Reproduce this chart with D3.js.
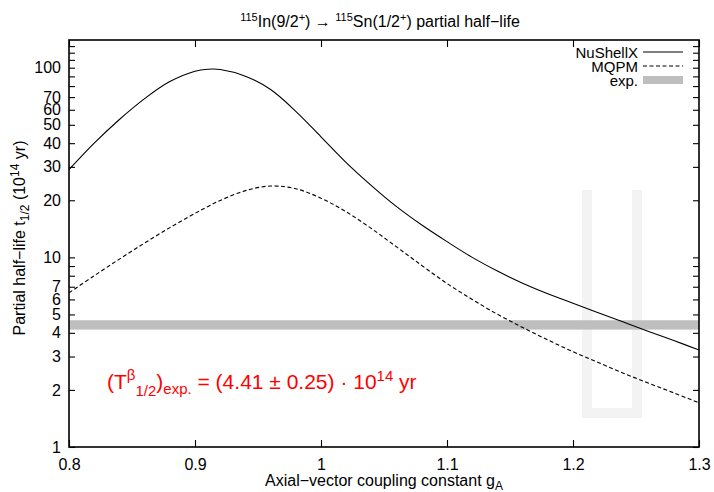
<!DOCTYPE html>
<html>
<head>
<script type="text/javascript" src="https://d3js.org/d3.v7.min.js"></script>
<style>
  body { margin: 0; background: white; }
  text { font-family: "Liberation Sans", Arial, Helvetica, sans-serif; }
</style>
</head>
<body>
<script>

var width = 714,
    height = 492;

// coupling constant g_A
var gA = [0.80, 0.82, 0.84, 0.86, 0.88, 0.90, 0.91, 0.92, 0.94, 0.96, 0.98,
          1.00, 1.02, 1.04, 1.06, 1.08, 1.10, 1.12, 1.14, 1.16, 1.18,
          1.20, 1.22, 1.24, 1.26, 1.28, 1.30];

// partial half-life, units of 10^14 yr
var nushellx = [29.0, 40.0, 53.3, 68.7, 84.5, 95.9, 98.2, 97.9, 90.2, 76.7, 58.9,
                43.2, 31.6, 23.9, 18.5, 14.8, 12.1, 10.0, 8.47, 7.31, 6.43,
                5.73, 5.11, 4.56, 4.07, 3.64, 3.25];

var mqpm = [6.50, 8.00, 9.79, 11.9, 14.35, 17.06, 18.5, 19.95, 22.49, 23.77, 23.01,
            20.51, 17.38, 14.19, 11.35, 9.06, 7.28, 6.00, 5.01, 4.27, 3.67,
            3.18, 2.79, 2.45, 2.17, 1.93, 1.71];

var expValue = 4.41,
    expError = 0.25;

var xTicks = [0.8, 0.9, 1, 1.1, 1.2, 1.3];
var yTicks = [1, 2, 3, 4, 5, 6, 7, 8, 9, 10, 20, 30, 40, 50, 60, 70, 80, 90, 100, 110, 120, 130];
var yLabels = [1, 2, 3, 4, 5, 6, 7, 10, 20, 30, 40, 50, 60, 70, 100];

var x = d3.scaleLinear().domain([0.8, 1.3]).range([69, 699]);
var y = d3.scaleLog().domain([1, 140]).range([447, 40]);

var svg = d3.select("body")
            .append("svg")
            .attr("width", width)
            .attr("height", height)
            .style("background", "white");

// faint watermark in the background of the original
svg.append("path")
   .attr("d", "M587,190 L587,413 L637,413 L637,190")
   .style("fill", "none")
   .style("stroke", "#f3f3f3")
   .style("stroke-width", 10);

// exp. band
svg.append("rect")
   .attr("x", x(0.8))
   .attr("width", x(1.3) - x(0.8))
   .attr("y", y(expValue + expError))
   .attr("height", y(expValue - expError) - y(expValue + expError))
   .style("fill", "#bebebe");

var line = d3.line()
             .x(function (d) { return x(d[0]); })
             .y(function (d) { return y(d[1]); })
             .curve(d3.curveCatmullRom.alpha(0.5));

svg.append("path")
   .datum(gA.map(function (g, i) { return [g, nushellx[i]]; }))
   .attr("d", line)
   .style("fill", "none")
   .style("stroke", "black")
   .style("stroke-width", 1.1);

svg.append("path")
   .datum(gA.map(function (g, i) { return [g, mqpm[i]]; }))
   .attr("d", line)
   .style("fill", "none")
   .style("stroke", "black")
   .style("stroke-width", 1.1)
   .style("stroke-dasharray", "4,2.5");

// axes, ticks pointing inward
var fmtY = function (d) { return yLabels.indexOf(d) >= 0 ? d : ""; };

svg.append("g")
   .attr("transform", "translate(0," + y(1) + ")")
   .call(d3.axisBottom(x).tickValues(xTicks).tickSize(-7).tickPadding(12)
          .tickFormat(function (d) { return d; }));

svg.append("g")
   .attr("transform", "translate(0," + y(140) + ")")
   .call(d3.axisTop(x).tickValues(xTicks).tickSize(-7).tickFormat(""));

svg.append("g")
   .attr("transform", "translate(" + x(0.8) + ",0)")
   .call(d3.axisLeft(y).tickValues(yTicks).tickSize(-6).tickPadding(8).tickFormat(fmtY));

svg.append("g")
   .attr("transform", "translate(" + x(1.3) + ",0)")
   .call(d3.axisRight(y).tickValues(yTicks).tickSize(-6).tickFormat(""));

svg.selectAll(".domain").remove();
svg.selectAll(".tick line").style("stroke", "black").style("stroke-width", 1.1);
svg.selectAll(".tick text")
   .style("font-family", "'Liberation Sans', Arial, sans-serif")
   .style("font-size", "16px")
   .style("fill", "black");

svg.append("rect")
   .attr("x", x(0.8))
   .attr("y", y(140))
   .attr("width", x(1.3) - x(0.8))
   .attr("height", y(1) - y(140))
   .style("fill", "none")
   .style("stroke", "black")
   .style("stroke-width", 1.6);

// legend
var legend = svg.append("g").style("font-size", "15px");
var keys = [{ "name": "NuShellX", "type": "solid" },
            { "name": "MQPM", "type": "dash" },
            { "name": "exp.", "type": "band" }];

keys.forEach(function (k, i) {
  var ly = 52 + i * 14;
  legend.append("text")
        .attr("x", 638)
        .attr("y", ly + 5.5)
        .attr("text-anchor", "end")
        .text(k.name);
  if (k.type == "band") {
    legend.append("rect")
          .attr("x", 643).attr("width", 40)
          .attr("y", ly - 4).attr("height", 8)
          .style("fill", "#bebebe");
  } else {
    legend.append("line")
          .attr("x1", 643).attr("x2", 683)
          .attr("y1", ly).attr("y2", ly)
          .style("stroke", "black")
          .style("stroke-width", 1.1)
          .style("stroke-dasharray", k.type == "dash" ? "4,2.5" : null);
  }
});

// title
var title = svg.append("text")
               .attr("x", 380)
               .attr("y", 27)
               .attr("text-anchor", "middle")
               .style("font-size", "16px");
title.append("tspan").attr("dy", "-6").style("font-size", "11px").text("115");
title.append("tspan").attr("dy", "6").text("In(9/2");
title.append("tspan").attr("dy", "-6").style("font-size", "11px").text("+");
title.append("tspan").attr("dy", "6").text(") \u2192 ");
title.append("tspan").attr("dy", "-6").style("font-size", "11px").text("115");
title.append("tspan").attr("dy", "6").text("Sn(1/2");
title.append("tspan").attr("dy", "-6").style("font-size", "11px").text("+");
title.append("tspan").attr("dy", "6").text(") partial half\u2212life");

// x label
var xlab = svg.append("text")
              .attr("x", 384)
              .attr("y", 486)
              .attr("text-anchor", "middle")
              .style("font-size", "16px");
xlab.append("tspan").text("Axial\u2212vector coupling constant g");
xlab.append("tspan").attr("dy", "4").style("font-size", "12px").text("A");

// y label
var ylab = svg.append("text")
              .attr("transform", "translate(25,238) rotate(-90)")
              .attr("text-anchor", "middle")
              .style("font-size", "16px");
ylab.append("tspan").text("Partial half\u2212life t");
ylab.append("tspan").attr("dy", "4").style("font-size", "12px").text("1/2");
ylab.append("tspan").attr("dy", "-4").text(" (10");
ylab.append("tspan").attr("dy", "-6").style("font-size", "12px").text("14");
ylab.append("tspan").attr("dy", "6").text(" yr)");

// experimental value annotation
var note = svg.append("text")
              .attr("x", 107)
              .attr("y", 389)
              .style("font-size", "21px")
              .style("fill", "red");
note.append("tspan").text("(T");
note.append("tspan").attr("dy", "-9").style("font-size", "15px").text("\u03b2");
note.append("tspan").attr("dy", "16").style("font-size", "15px").text("1/2");
note.append("tspan").attr("dy", "-7").text(")");
note.append("tspan").attr("dy", "5").style("font-size", "15px").text("exp.");
note.append("tspan").attr("dy", "-5").text(" = (4.41 \u00b1 0.25) \u00b7 10");
note.append("tspan").attr("dy", "-8").style("font-size", "15px").text("14");
note.append("tspan").attr("dy", "8").text(" yr");

</script>
</body>
</html>
